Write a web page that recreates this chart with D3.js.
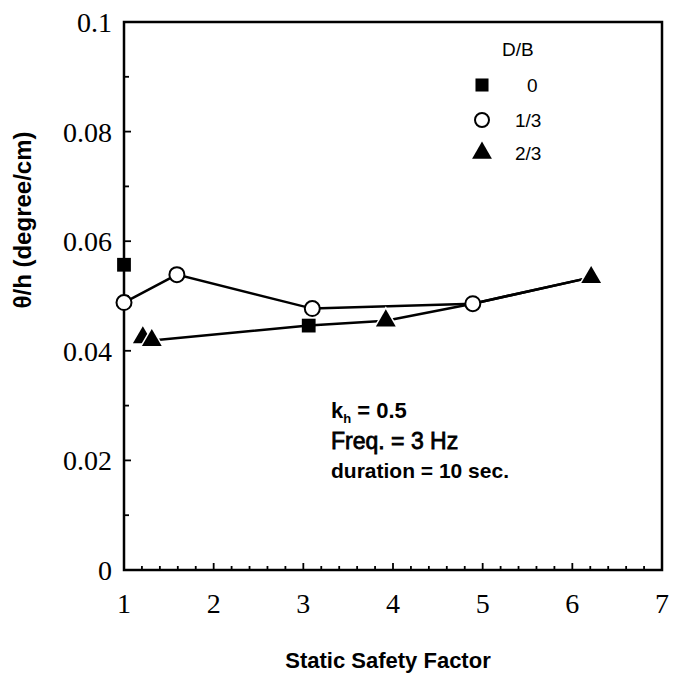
<!DOCTYPE html>
<html><head><meta charset="utf-8">
<script src="https://cdn.jsdelivr.net/npm/d3@7"></script>
<style>body{margin:0;background:#fff;}</style>
</head><body>
<svg id="chart" width="673" height="678"></svg>
<script>
// Data
const xTicks = [1, 2, 3, 4, 5, 6, 7];
const yTicks = [0, 0.02, 0.04, 0.06, 0.08, 0.1];
const yTickLabels = ["0", "0.02", "0.04", "0.06", "0.08", "0.1"];
const seriesNames = ["0", "1/3", "2/3"];
const squareX = [1.0, 3.06];
const squareY = [0.0557, 0.0446];
const circleX = [1.0, 1.59, 3.1, 4.89];
const circleY = [0.0488, 0.0539, 0.0477, 0.0486];
const triangleX = [1.21, 1.31, 3.92, 6.21];
const triangleY = [0.0424, 0.0419, 0.0455, 0.0534];
// hand-drawn trend curves
const upperCurveX = [1.0, 1.59, 3.1, 4.89, 6.21];
const upperCurveY = [0.0488, 0.0539, 0.0477, 0.0486, 0.0534];
const lowerCurveX = [1.31, 3.06, 3.92, 4.89, 6.21];
const lowerCurveY = [0.0419, 0.0446, 0.0455, 0.0486, 0.0534];

const svg = d3.select("#chart");
const L = 124, R = 662, T = 22, B = 570;
const x = d3.scaleLinear().domain([1, 7]).range([L, R]);
const y = d3.scaleLinear().domain([0, 0.1]).range([B, T]);

// frame
svg.append("rect").attr("x", L).attr("y", T).attr("width", R - L).attr("height", B - T)
  .attr("fill", "none").attr("stroke", "#000").attr("stroke-width", 2.5);

// x axis ticks
const xMinor = d3.range(1, 7.001, 0.2);
svg.append("g").selectAll("line").data(xMinor).join("line")
  .attr("x1", d => x(d)).attr("x2", d => x(d))
  .attr("y1", B).attr("y2", d => Math.abs(d - Math.round(d)) < 1e-6 ? B - 7 : B - 4)
  .attr("stroke", "#000").attr("stroke-width", 1.8);
svg.append("g").selectAll("text").data(xTicks).join("text")
  .attr("x", d => x(d)).attr("y", B + 43)
  .attr("text-anchor", "middle")
  .attr("font-family", "Liberation Serif, serif").attr("font-size", 28)
  .text(d => d);

// y axis ticks
const yMinor = d3.range(0, 0.1001, 0.01);
svg.append("g").selectAll("line").data(yMinor).join("line")
  .attr("x1", L).attr("x2", (d, i) => i % 2 === 0 ? L + 7 : L + 5)
  .attr("y1", d => y(d)).attr("y2", d => y(d))
  .attr("stroke", "#000").attr("stroke-width", 1.8);
svg.append("g").selectAll("text").data(yTicks).join("text")
  .attr("x", L - 12).attr("y", d => y(d) + 10)
  .attr("text-anchor", "end")
  .attr("font-family", "Liberation Serif, serif").attr("font-size", 28)
  .text((d, i) => yTickLabels[i]);

// axis titles
const lf = "Liberation Sans, Arial, sans-serif";
svg.append("text").attr("x", 388).attr("y", 668).attr("text-anchor", "middle")
  .attr("font-family", lf).attr("font-weight", "bold")
  .attr("font-size", 22).text("Static Safety Factor");
svg.append("text").attr("transform", "translate(31,220) rotate(-90)").attr("text-anchor", "middle")
  .attr("font-family", lf).attr("font-weight", "bold")
  .attr("font-size", 24).text("θ/h (degree/cm)");

// curves
const line = d3.line().x(d => x(d[0])).y(d => y(d[1]));
svg.append("path").datum(d3.zip(upperCurveX, upperCurveY)).attr("d", line)
  .attr("fill", "none").attr("stroke", "#000").attr("stroke-width", 2.5);
svg.append("path").datum(d3.zip(lowerCurveX, lowerCurveY)).attr("d", line)
  .attr("fill", "none").attr("stroke", "#000").attr("stroke-width", 2.5);

// markers
const tri = d3.symbol().type(d3.symbolTriangle).size(170);
const sq = d3.symbol().type(d3.symbolSquare).size(190);
svg.append("g").selectAll("path").data(d3.zip(triangleX, triangleY)).join("path")
  .attr("transform", d => `translate(${x(d[0])},${y(d[1])})`).attr("d", tri)
  .attr("fill", "#000").attr("stroke", "#fff").attr("stroke-width", 3).attr("paint-order", "stroke");
svg.append("g").selectAll("path").data(d3.zip(squareX, squareY)).join("path")
  .attr("transform", d => `translate(${x(d[0])},${y(d[1])})`).attr("d", sq)
  .attr("fill", "#000");
svg.append("g").selectAll("circle").data(d3.zip(circleX, circleY)).join("circle")
  .attr("cx", d => x(d[0])).attr("cy", d => y(d[1])).attr("r", 7.5)
  .attr("fill", "#fff").attr("stroke", "#000").attr("stroke-width", 2);

// legend
svg.append("text").attr("x", 502).attr("y", 56).attr("font-family", lf).attr("font-size", 19).text("D/B");
const legY = [85, 120, 153];
seriesNames.forEach((n, i) => {
  if (i === 1) {
    svg.append("circle").attr("cx", 482).attr("cy", legY[i]).attr("r", 7)
      .attr("fill", "#fff").attr("stroke", "#000").attr("stroke-width", 2);
  } else {
    svg.append("path").attr("transform", `translate(482,${legY[i]})`)
      .attr("d", i === 0 ? d3.symbol().type(d3.symbolSquare).size(170)() : tri()).attr("fill", "#000");
  }
  svg.append("text").attr("x", i === 0 ? 527 : 515).attr("y", legY[i] + 7)
    .attr("font-family", lf).attr("font-size", 19).text(n);
});

// annotation
const ann = svg.append("g").attr("font-family", lf).attr("font-weight", "bold");
const t1 = ann.append("text").attr("x", 331).attr("y", 418).attr("font-size", 22);
t1.append("tspan").text("k");
t1.append("tspan").attr("font-size", 13).attr("dy", 5).text("h");
t1.append("tspan").attr("dy", -5).text(" = 0.5");
ann.append("text").attr("x", 331).attr("y", 449).attr("font-size", 23).attr("font-weight", "normal")
  .attr("stroke", "#000").attr("stroke-width", 0.8).text("Freq. = 3 Hz");
ann.append("text").attr("x", 331).attr("y", 478).attr("font-size", 21).text("duration = 10 sec.");
</script>
</body></html>
